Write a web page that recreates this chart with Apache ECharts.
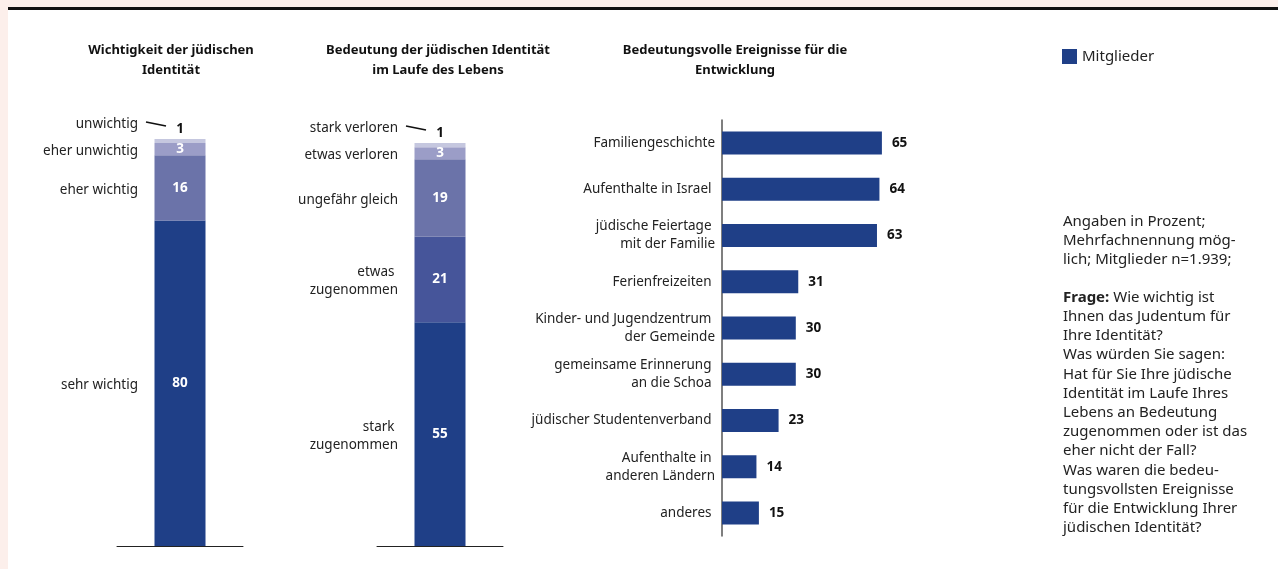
<!DOCTYPE html>
<html lang="de">
<head>
<meta charset="utf-8">
<title>Jüdische Identität</title>
<script src="https://cdn.jsdelivr.net/npm/echarts@6/dist/echarts.min.js"></script>
<style>
  html, body { margin: 0; padding: 0; }
  body { width: 1278px; height: 569px; background: #fcefeb; position: relative; overflow: hidden; }
  #sheet { position: absolute; left: 8px; top: 7px; right: 0; bottom: 0; background: #ffffff; border-top: 3px solid #111; }
  #chart { position: absolute; left: 0; top: 0; width: 1278px; height: 569px; }
</style>
</head>
<body>
<div id="sheet"></div>
<div id="chart"></div>
<script>
// Wichtigkeit der jüdischen Identität (stack from bottom to top)
const wichtigCats = ['sehr wichtig', 'eher wichtig', 'eher unwichtig', 'unwichtig'];
const wichtigVals = [80, 16, 3, 1];
const wichtigColors = ['#1f3f87', '#6b73a9', '#9b9dc7', '#c5c7df'];

// Bedeutung der jüdischen Identität im Laufe des Lebens
const lebenCats = ['stark \nzugenommen', 'etwas \nzugenommen', 'ungefähr gleich', 'etwas verloren', 'stark verloren'];
const lebenVals = [55, 21, 19, 3, 1];
const lebenColors = ['#1f3f87', '#46559a', '#6b73a9', '#9b9dc7', '#c5c7df'];

// Bedeutungsvolle Ereignisse für die Entwicklung
const eventCats = [
  'Familiengeschichte',
  'Aufenthalte in Israel ',
  'jüdische Feiertage \nmit der Familie',
  'Ferienfreizeiten ',
  'Kinder- und Jugendzentrum \nder Gemeinde',
  'gemeinsame Erinnerung \nan die Schoa ',
  'jüdischer Studentenverband ',
  'Aufenthalte in \nanderen Ländern',
  'anderes '
];
const eventVals = [65, 64, 63, 31, 30, 30, 23, 14, 15];

const seriesName = 'Mitglieder';

const FONT = '"Noto Sans", "Open Sans", sans-serif';
const NOTE_FONT = '"Noto Sans", "Open Sans", sans-serif';
const DARK = '#1f3f87';

function stackSeries(vals, colors, stackId, axisIdx) {
  return vals.map(function (v, i) {
    const top = i === vals.length - 1;
    return {
      type: 'bar',
      name: 'seg' + axisIdx + '_' + i,
      stack: stackId,
      xAxisIndex: axisIdx,
      yAxisIndex: axisIdx,
      barWidth: 51,
      silent: true,
      itemStyle: { color: colors[i] },
      label: top ? {
        show: true, position: 'top', distance: 3,
        color: '#111', fontFamily: FONT, fontWeight: 'bold', fontSize: 13.5
      } : {
        show: true, position: 'inside',
        color: '#ffffff', fontFamily: FONT, fontWeight: 'bold', fontSize: 13.5
      },
      data: [v]
    };
  });
}

// category names beside each stacked segment, with a short leader line for the top one
function segmentLabels(cats, vals, axisIdx) {
  let acc = 0;
  const pts = vals.map(function (v, i) {
    const mid = acc + v / 2;
    acc += v;
    return [0, i === vals.length - 1 ? acc : mid];
  });
  return {
    type: 'custom',
    xAxisIndex: axisIdx,
    yAxisIndex: axisIdx,
    silent: true,
    z: 5,
    data: pts,
    renderItem: function (params, api) {
      const i = params.dataIndex;
      const p = api.coord([api.value(0), api.value(1)]);
      const isTop = i === vals.length - 1;
      const textStyle = {
        text: cats[i], fill: '#222', fontFamily: FONT, fontSize: 13.5,
        align: 'right', verticalAlign: 'middle', lineHeight: 18
      };
      if (!isTop) {
        return { type: 'text', x: p[0] - 42, y: p[1] + 2, style: textStyle };
      }
      return {
        type: 'group',
        children: [
          { type: 'text', x: p[0] - 42, y: p[1] - 15, style: textStyle },
          {
            type: 'line',
            shape: { x1: p[0] - 34, y1: p[1] - 17, x2: p[0] - 14, y2: p[1] - 13 },
            style: { stroke: '#111', lineWidth: 1.6 }
          }
        ]
      };
    }
  };
}

const chart = echarts.init(document.getElementById('chart'), null, { renderer: 'canvas' });

const stackGrid = function (left) {
  return { left: left, top: 139, width: 126, height: 407, containLabel: false };
};

const stackX = function (idx) {
  return {
    type: 'category', gridIndex: idx, data: [''],
    axisLine: { show: true, lineStyle: { color: '#222', width: 1 } },
    axisTick: { show: false }, axisLabel: { show: false }
  };
};
const stackY = function (idx) {
  return {
    type: 'value', gridIndex: idx, min: 0, max: 100,
    axisLine: { show: false }, axisTick: { show: false },
    axisLabel: { show: false }, splitLine: { show: false }
  };
};

const titleStyle = { fill: '#111', fontFamily: FONT, fontWeight: 'bold', fontSize: 13, align: 'center', lineHeight: 20 };

const option = {
  animation: false,
  backgroundColor: 'transparent',
  grid: [
    stackGrid(117),
    stackGrid(377),
    { left: 722, top: 120, width: 246, height: 416, containLabel: false }
  ],
  xAxis: [
    stackX(0),
    stackX(1),
    {
      type: 'value', gridIndex: 2, min: 0, max: 100, show: false
    }
  ],
  yAxis: [
    stackY(0),
    stackY(1),
    {
      type: 'category', gridIndex: 2, inverse: true, data: eventCats,
      axisLine: { show: true, lineStyle: { color: '#555', width: 1.5 } },
      axisTick: { show: false },
      axisLabel: {
        margin: 7, color: '#222', fontFamily: FONT, fontSize: 13.5,
        lineHeight: 18, align: 'right'
      }
    }
  ],
  legend: {
    data: [seriesName],
    left: 1057, top: 44,
    itemWidth: 15, itemHeight: 15,
    icon: 'rect',
    textStyle: { color: '#222', fontFamily: NOTE_FONT, fontSize: 15 }
  },
  graphic: [
    { type: 'text', x: 171, y: 40, style: Object.assign({ text: 'Wichtigkeit der jüdischen\nIdentität' }, titleStyle) },
    { type: 'text', x: 438, y: 40, style: Object.assign({ text: 'Bedeutung der jüdischen Identität\nim Laufe des Lebens' }, titleStyle) },
    { type: 'text', x: 735, y: 40, style: Object.assign({ text: 'Bedeutungsvolle Ereignisse für die\nEntwicklung' }, titleStyle) },
    {
      type: 'text', x: 1063, y: 212,
      style: {
        text: 'Angaben in Prozent;\nMehrfachnennung mög-\nlich; Mitglieder n=1.939;',
        fill: '#222', fontFamily: NOTE_FONT, fontSize: 15, lineHeight: 19.2
      }
    },
    {
      type: 'text', x: 1063, y: 288,
      style: {
        text: '{b|Frage:} Wie wichtig ist\nIhnen das Judentum für\nIhre Identität?\nWas würden Sie sagen:\nHat für Sie Ihre jüdische\nIdentität im Laufe Ihres\nLebens an Bedeutung\nzugenommen oder ist das\neher nicht der Fall?\nWas waren die bedeu-\ntungsvollsten Ereignisse\nfür die Entwicklung Ihrer\njüdischen Identität?',
        fill: '#222', fontFamily: NOTE_FONT, fontSize: 15, lineHeight: 19.2,
        rich: {
          b: { fontFamily: NOTE_FONT, fontSize: 15, fontWeight: 'bold', lineHeight: 19.2, fill: '#222' }
        }
      }
    }
  ],
  series: []
    .concat(stackSeries(wichtigVals, wichtigColors, 'wichtig', 0))
    .concat([segmentLabels(wichtigCats, wichtigVals, 0)])
    .concat(stackSeries(lebenVals, lebenColors, 'leben', 1))
    .concat([segmentLabels(lebenCats, lebenVals, 1)])
    .concat([{
      type: 'bar',
      name: seriesName,
      xAxisIndex: 2,
      yAxisIndex: 2,
      barWidth: 23,
      itemStyle: { color: DARK },
      label: {
        show: true, position: 'right', distance: 10,
        color: '#111', fontFamily: FONT, fontWeight: 'bold', fontSize: 13.5
      },
      data: eventVals
    }])
};

chart.setOption(option);
</script>
</body>
</html>
